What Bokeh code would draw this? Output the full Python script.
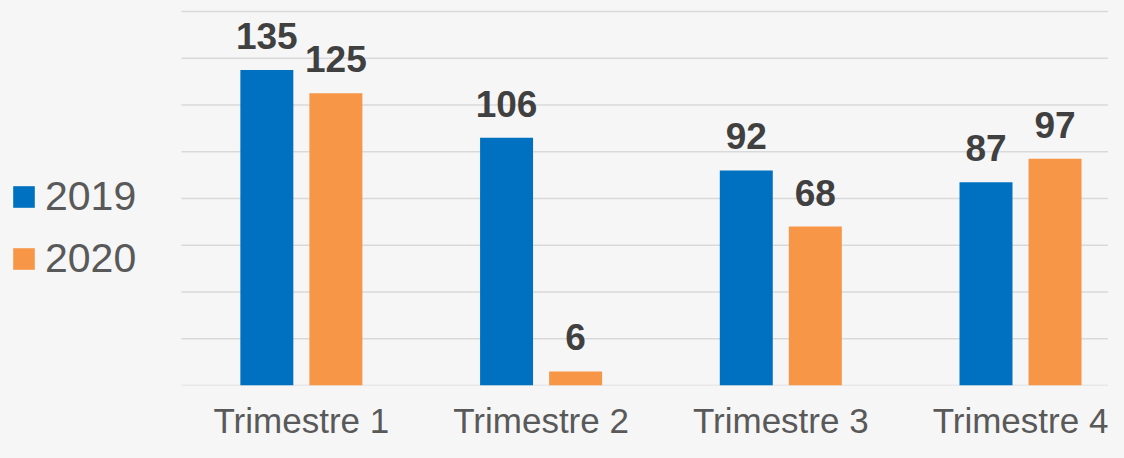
from bokeh.plotting import figure
from bokeh.models import Legend, LegendItem, FixedTicker, ColumnDataSource, LabelSet
from bokeh.transform import dodge
from bokeh.core.properties import value
from bokeh.embed import file_html
from bokeh.resources import INLINE

categories = ["Trimestre 1", "Trimestre 2", "Trimestre 3", "Trimestre 4"]
series_names = ["2019", "2020"]
values_2019 = [135, 106, 92, 87]
values_2020 = [125, 6, 68, 97]
y_ticks = [0, 20, 40, 60, 80, 100, 120, 140, 160]

BLUE = "#0070C0"
ORANGE = "#F79646"
BG = "#f6f6f6"
FONT = "Liberation Sans"

centers = [i + 0.5 for i in range(len(categories))]
src = ColumnDataSource(dict(
    x=centers,
    v2019=values_2019,
    v2020=values_2020,
    l2019=[str(v) for v in values_2019],
    l2020=[str(v) for v in values_2020],
))

X_START = -0.7551
X_END = 3.867
p = figure(width=1108, height=442, x_range=(X_START, X_END), y_range=(0, 164.7),
           output_backend="svg", toolbar_location=None,
           min_border_left=0, min_border_right=0, min_border_top=0, min_border_bottom=0)
p.background_fill_color = BG
p.border_fill_color = BG
p.outline_line_color = None

# horizontal gridlines only over the plotting region
p.segment(x0=0, x1=X_END, y0=y_ticks, y1=y_ticks, line_color="#d9d9d9", line_width=1.6)

off = 0.144
bw = 0.221
r1 = p.vbar(x=dodge("x", -off, range=p.x_range), top="v2019", width=bw, source=src,
            fill_color=BLUE, line_color=None)
r2 = p.vbar(x=dodge("x", off, range=p.x_range), top="v2020", width=bw, source=src,
            fill_color=ORANGE, line_color=None)

for col, lab, o in (("v2019", "l2019", -off), ("v2020", "l2020", off)):
    p.add_layout(LabelSet(x=dodge("x", o, range=p.x_range), y=col, text=lab, source=src,
                          text_align="center", text_baseline="alphabetic", y_offset=21,
                          text_font=value(FONT), text_font_style="bold",
                          text_font_size="37px", text_color="#404040"))

# axes / grid
p.yaxis.visible = False
p.ygrid.visible = False
p.xgrid.visible = False

p.xaxis.ticker = FixedTicker(ticks=centers)
p.xaxis.major_label_overrides = {c: name for c, name in zip(centers, categories)}
p.xaxis.axis_line_color = None
p.xaxis.major_tick_line_color = None
p.xaxis.minor_tick_line_color = None
p.xaxis.major_tick_out = 0
p.xaxis.major_tick_in = 0
p.xaxis.major_label_standoff = 15
p.xaxis.major_label_text_font = FONT
p.xaxis.major_label_text_font_size = "35px"
p.xaxis.major_label_text_color = "#595959"

legend = Legend(items=[LegendItem(label=series_names[0], renderers=[r1]),
                       LegendItem(label=series_names[1], renderers=[r2])],
                location=(10, 103), glyph_width=27, glyph_height=27,
                label_text_font=FONT, label_text_font_size="41px",
                label_text_color="#595959", label_standoff=8, spacing=15,
                padding=0, margin=0, border_line_color=None,
                background_fill_alpha=0)
p.add_layout(legend)

html = file_html(p, INLINE)
html = html.replace("</head>",
                    "<style>html, body { background-color: %s; }</style></head>" % BG, 1)
open("out.html", "w").write(html)
